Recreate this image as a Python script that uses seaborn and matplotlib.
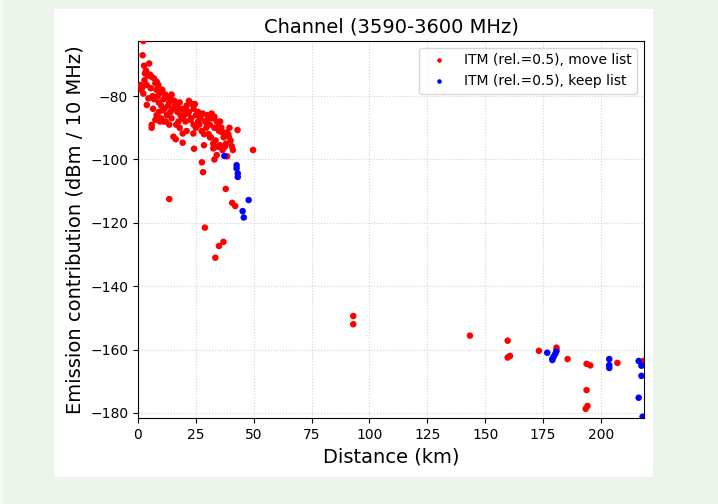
import pandas as pd
import matplotlib.pyplot as plt
import seaborn as sns
from matplotlib.patches import Rectangle

# Move list points: distance (km), emission contribution (dBm / 10 MHz)
move_x = [
    2.3, 2.0, 4.8, 2.6, 3.0, 5.2, 5.9, 6.9, 8.1, 8.8, 2.0, 2.3, 4.5, 3.8, 5.9, 5.9,
    1.0, 1.5, 3.5, 4.2, 2.8, 3.8, 5.5, 6.3, 7.0, 7.5, 8.0, 8.5, 9.0, 9.5, 10.0, 10.5,
    11.0, 11.5, 12.0, 12.5, 13.0, 13.5, 14.0, 14.5, 15.0, 9.0, 10.0, 11.0, 8.0, 12.0,
    13.5, 14.5, 7.5, 9.5, 16.0, 17.0, 18.0, 19.0, 20.0, 21.0, 22.0, 23.0, 24.0, 25.0,
    17.5, 19.0, 20.5, 22.0, 23.5, 18.0, 21.0, 24.0, 25.0, 16.5, 26.0, 27.0, 28.0,
    29.0, 30.0, 31.0, 32.0, 33.0, 34.0, 35.0, 26.5, 27.5, 28.5, 29.5, 30.5, 31.5,
    32.5, 33.5, 34.5, 30.0, 33.0, 35.5, 36.0, 37.0, 38.0, 39.0, 40.0, 36.5, 37.5,
    38.5, 39.5, 41.0, 43.0, 36.1, 15.3, 16.3, 19.3, 19.3, 23.9, 24.2, 28.5, 32.5,
    31.1, 35.4, 40.5, 39.2, 34.0, 27.6, 28.1, 33.0, 49.7, 13.5, 37.9, 40.7, 42.0,
    28.9, 36.9, 35.0, 33.4, 14.5, 6.5, 11.8, 15.8, 20.8, 26.8, 29.8, 34.8, 24.6,
    18.4, 22.6, 10.8, 13.0, 17.0, 21.5, 26.0, 31.8, 38.0,
    93.0, 93.0, 143.4, 159.7, 159.7, 160.7, 173.2, 180.8, 180.8, 185.6, 193.8,
    195.4, 193.8, 194.2, 193.4, 207.1, 218.3,
]
move_y = [
    -62.6, -67.1, -69.7, -70.4, -72.8, -73.2, -73.9, -74.4, -75.5, -76.5, -77.0,
    -79.2, -80.7, -82.8, -89.1, -90.0,
    -76.5, -78.0, -72.0, -73.5, -75.0, -76.5, -77.5, -80.0, -81.0, -76.0, -78.0,
    -80.0, -82.0, -79.0, -83.0, -78.0, -81.0, -84.0, -80.0, -86.0, -83.0, -82.0,
    -85.0, -81.0, -84.0, -85.0, -87.0, -88.0, -86.0, -88.0, -89.0, -87.0, -87.5,
    -88.0, -83.0, -85.0, -82.0, -84.0, -86.0, -83.0, -85.0, -87.0, -84.0, -86.0,
    -88.0, -87.0, -88.0, -81.5, -82.5, -90.0, -91.0, -89.0, -90.0, -89.0, -85.0,
    -87.0, -85.5, -88.0, -86.0, -89.0, -87.0, -90.0, -88.0, -91.0, -89.0, -91.0,
    -92.0, -90.0, -92.0, -93.0, -95.0, -94.0, -96.0, -87.5, -86.5, -88.0, -90.0,
    -93.0, -95.0, -92.0, -94.0, -97.0, -96.0, -99.0, -90.0, -97.0, -90.7, -91.3,
    -92.8, -93.6, -91.8, -94.7, -91.8, -96.6, -95.5, -96.5, -93.0, -95.5, -95.8,
    -92.8, -98.6, -100.9, -104.0, -100.0, -97.0, -112.5, -109.3, -113.7, -114.7,
    -121.5, -126.0, -127.3, -131.0, -79.5, -84.0, -79.5, -81.5, -84.5, -86.5, -88.5,
    -89.5, -82.5, -86.0, -87.5, -84.5, -80.5, -83.5, -85.5, -88.0, -85.5, -91.5,
    -149.4, -152.0, -155.6, -157.2, -162.5, -162.0, -160.4, -159.4, -160.2, -163.0,
    -164.5, -165.0, -172.8, -177.8, -178.7, -164.2, -163.6,
]

# Keep list points
keep_x = [
    37.3, 42.6, 42.6, 43.1, 43.1, 47.8, 45.2, 45.7,
    176.8, 179.0, 179.0, 179.6, 180.3, 180.7, 203.6, 203.6, 203.6,
    216.3, 217.5, 217.5, 216.3, 218.0,
]
keep_y = [
    -98.9, -101.8, -102.8, -104.4, -105.5, -112.8, -116.3, -118.3,
    -161.0, -162.9, -163.3, -162.2, -161.3, -160.6, -163.0, -164.9, -165.8,
    -163.6, -165.1, -168.3, -175.2, -181.2,
]

move_label = 'ITM (rel.=0.5), move list'
keep_label = 'ITM (rel.=0.5), keep list'

df = pd.DataFrame({
    'dist': move_x + keep_x,
    'emission': move_y + keep_y,
    'list': [move_label] * len(move_x) + [keep_label] * len(keep_x),
})

fig = plt.figure(figsize=(7.18, 5.04), dpi=100, facecolor='#ebf5e9')
# white card behind the plot, plus the thin light strip on the left edge
fig.patches.append(Rectangle((54 / 718, 1 - 477 / 504), 599 / 718, 468 / 504,
                             transform=fig.transFigure, facecolor='white',
                             edgecolor='none', zorder=-1))
fig.patches.append(Rectangle((0, 0), 3 / 718, 1, transform=fig.transFigure,
                             facecolor='#f7fbf6', edgecolor='none', zorder=-1))
ax = fig.add_axes([138 / 718, 1 - 418 / 504, 506 / 718, 377 / 504])

sns.scatterplot(data=df, x='dist', y='emission', hue='list',
                palette={move_label: 'red', keep_label: 'blue'},
                s=22, linewidth=0, ax=ax, zorder=3)

ax.set_xlim(0, 218.6)
ax.set_ylim(-181.6, -62.6)
ax.set_xticks(range(0, 201, 25))
ax.set_yticks(range(-180, -79, 20))
ax.grid(True, linestyle=':', color='lightgray', linewidth=0.8)
ax.tick_params(labelsize=10)

ax.set_title('Channel (3590-3600 MHz)', fontsize=14)
ax.set_xlabel('Distance (km)', fontsize=14)
ax.set_ylabel('Emission contribution (dBm / 10 MHz)', fontsize=14)
ax.legend(title=None, loc='upper right', fontsize=10, markerscale=0.7)

fig.savefig('out.png', dpi=100, facecolor=fig.get_facecolor())
